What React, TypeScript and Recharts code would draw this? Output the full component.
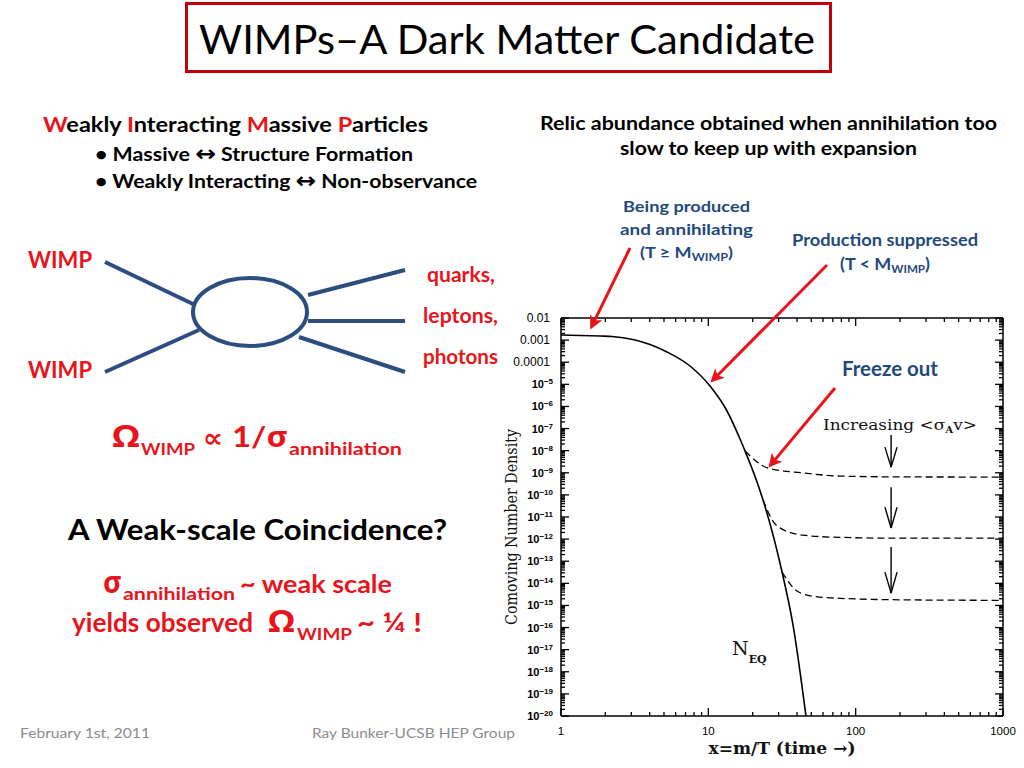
import React from 'react';
import { LineChart, Line, XAxis, YAxis, ReferenceLine, ReferenceDot } from 'recharts';

const solidX = [1, 1.84, 2.22, 3.08, 4.02, 5.24, 7.51, 10.27, 13.39, 16.41, 17.75, 21.41, 23.51, 31.65, 37.58, 46];
const solidY = [1.7e-3, 1.53e-3, 1.46e-3, 1.07e-3, 6.33e-4, 2.9e-4, 6.75e-5, 8.39e-6, 6.22e-7, 3.37e-8, 9.64e-9, 3.82e-10, 5.86e-11, 3.25e-14, 1.3e-16, 1.0e-20];

// dashed freeze-out curves (increasing <sigma v> going down)
const freeze1X = [17.75, 25.4, 44, 78.4, 200, 1000];
const freeze1Y = [9.64e-9, 1.64e-9, 9.8e-10, 7.1e-10, 6.5e-10, 6.4e-10];
const freeze2X = [23.51, 29.3, 44, 78.4, 200, 1000];
const freeze2Y = [5.86e-11, 3.9e-12, 1.5e-12, 1.2e-12, 1.1e-12, 1.1e-12];
const freeze3X = [31.65, 40, 51.4, 78.4, 200, 1000];
const freeze3Y = [3.25e-14, 4.5e-15, 2.6e-15, 2.1e-15, 1.8e-15, 1.7e-15];

// axes
const xMajorTicks = [1, 10, 100, 1000];
const xTickLabels = ['1', '10', '100', '1000'];
const minorSteps = [2, 3, 4, 5, 6, 7, 8, 9];
const yMajorTicks = [1e-2, 1e-3, 1e-4, 1e-5, 1e-6, 1e-7, 1e-8, 1e-9, 1e-10, 1e-11, 1e-12, 1e-13, 1e-14, 1e-15, 1e-16, 1e-17, 1e-18, 1e-19, 1e-20];
const yTickLabels = ['0.01', '0.001', '0.0001', '10^-5', '10^-6', '10^-7', '10^-8', '10^-9', '10^-10', '10^-11', '10^-12', '10^-13', '10^-14', '10^-15', '10^-16', '10^-17', '10^-18', '10^-19', '10^-20'];

// "Increasing <sigma v>" arrows, in data coordinates
const sigmaArrowX = 174;
const sigmaHeadLeftX = 158;
const sigmaHeadRightX = 191;
const sigmaArrowTop = [5.1e-8, 2.2e-10, 4.4e-13];
const sigmaArrowTip = [1.8e-9, 3.2e-12, 3.6e-15];
const sigmaArrowHead = [1.45e-8, 2.8e-11, 3.2e-14];

const toPoints = (xs: number[], ys: number[]) => xs.map((x, i) => ({ x, y: ys[i] }));
const solid = toPoints(solidX, solidY);
const freeze1 = toPoints(freeze1X, freeze1Y);
const freeze2 = toPoints(freeze2X, freeze2Y);
const freeze3 = toPoints(freeze3X, freeze3Y);

const xTicks = [...xMajorTicks, ...xMajorTicks.slice(0, 3).flatMap((b) => minorSteps.map((m) => m * b))];
const yTicks = [...yMajorTicks, ...yMajorTicks.slice(1).flatMap((b) => minorSteps.map((m) => m * b))];

const SANS = "Lato, 'Noto Sans', sans-serif";
const GREEK = "'Noto Sans', 'DejaVu Sans', sans-serif";
const SERIF = "'DejaVu Serif', 'Liberation Serif', serif";
const TICKFONT = "'Liberation Sans', Arial, sans-serif";
const RED = '#E8141B';
const NAVY = '#1F497D';
const LINE_BLUE = '#2C4D80';

const XTick = (props: any) => {
  const { x, y, payload, top } = props;
  const i = xMajorTicks.indexOf(payload.value);
  const len = i >= 0 ? 8 : 4;
  const d = top ? 1 : -1;
  return (
    <g>
      <line x1={x} x2={x} y1={y} y2={y + d * len} stroke="#000" strokeWidth={1.3} />
      {!top && i >= 0 && (
        <text x={x} y={y + 19} textAnchor="middle" fontSize={11.5} fontFamily={TICKFONT} fill="#000">
          {xTickLabels[i]}
        </text>
      )}
    </g>
  );
};

const YTick = (props: any) => {
  const { x, y, payload, right } = props;
  const i = yMajorTicks.indexOf(payload.value);
  const len = i >= 0 ? 8 : 4;
  const d = right ? -1 : 1;
  const lab = i >= 0 ? yTickLabels[i] : null;
  let text = null;
  if (!right && lab) {
    if (lab.includes('^')) {
      const exp = lab.split('^')[1].replace('-', '\u2212');
      text = (
        <text x={x - 8} y={y + 4} textAnchor="end" fontSize={11} fontWeight="bold" fontFamily={TICKFONT} fill="#000">
          10<tspan dy={-4} fontSize={8}>{exp}</tspan>
        </text>
      );
    } else {
      text = (
        <text x={x - 11} y={y + 4} textAnchor="end" fontSize={12} fontFamily={TICKFONT} fill="#000">
          {lab}
        </text>
      );
    }
  }
  return (
    <g>
      <line x1={x} x2={x + d * len} y1={y} y2={y} stroke="#000" strokeWidth={1.3} />
      {text}
    </g>
  );
};

const XTitle = (props: any) => {
  const vb = props.viewBox;
  return (
    <text x={vb.x + vb.width / 2} y={vb.y + 38} textAnchor="middle" fontFamily={SERIF} fontSize={16} fontWeight="bold" fill="#111" textLength={147} lengthAdjust="spacingAndGlyphs">
      x=m/T (time →)
    </text>
  );
};

const YTitle = (props: any) => {
  const vb = props.viewBox;
  const cx = vb.x + 10;
  const cy = vb.y + vb.height / 2 + 10;
  return (
    <text x={cx} y={cy} transform={`rotate(-90 ${cx} ${cy})`} textAnchor="middle" dominantBaseline="central" fontFamily={SERIF} fontSize={16.5} fill="#111" textLength={196} lengthAdjust="spacingAndGlyphs">
      Comoving Number Density
    </text>
  );
};

const IncreasingLabel = (props: any) => {
  const vb = props.viewBox;
  return (
    <text x={vb.x} y={vb.y} textAnchor="middle" fontFamily={SERIF} fontSize={15} fill="#111" textLength={154} lengthAdjust="spacingAndGlyphs">
      Increasing &lt;σ<tspan fontSize={9} fontWeight="bold" dy={3}>A</tspan><tspan dy={-3}>v&gt;</tspan>
    </text>
  );
};

const NeqLabel = (props: any) => {
  const vb = props.viewBox;
  return (
    <text x={vb.x} y={vb.y} fontFamily={SERIF} fill="#111">
      <tspan fontSize={19}>N</tspan>
      <tspan fontSize={11} fontWeight="bold" dy={8}>EQ</tspan>
    </text>
  );
};

const sigmaArrows = sigmaArrowTop.flatMap((top, i) => [
  <ReferenceLine key={`s${i}`} xAxisId="b" yAxisId="l" segment={[{ x: sigmaArrowX, y: top }, { x: sigmaArrowX, y: sigmaArrowTip[i] }]} stroke="#000" strokeWidth={1.4} />,
  <ReferenceLine key={`hl${i}`} xAxisId="b" yAxisId="l" segment={[{ x: sigmaHeadLeftX, y: sigmaArrowHead[i] }, { x: sigmaArrowX, y: sigmaArrowTip[i] }]} stroke="#000" strokeWidth={1.4} />,
  <ReferenceLine key={`hr${i}`} xAxisId="b" yAxisId="l" segment={[{ x: sigmaHeadRightX, y: sigmaArrowHead[i] }, { x: sigmaArrowX, y: sigmaArrowTip[i] }]} stroke="#000" strokeWidth={1.4} />,
]);

const RelicChart = () => (
  <LineChart width={534} height={468} margin={{ top: 17, right: 20, bottom: 12, left: 11 }}>
    <XAxis
      xAxisId="b" type="number" dataKey="x" scale="log" domain={[1, 1000]} ticks={xTicks} interval={0}
      allowDataOverflow tickSize={0} tickMargin={0} tickLine={false} height={40}
      axisLine={{ stroke: '#000', strokeWidth: 1.5 }} tick={(p: any) => <XTick {...p} />}
      label={{ content: (p: any) => <XTitle {...p} /> }}
    />
    <XAxis
      xAxisId="t" orientation="top" type="number" dataKey="x" scale="log" domain={[1, 1000]} ticks={xTicks} interval={0}
      allowDataOverflow tickSize={0} tickMargin={0} tickLine={false} height={1}
      axisLine={{ stroke: '#000', strokeWidth: 1.5 }} tick={(p: any) => <XTick {...p} top />}
    />
    <YAxis
      yAxisId="l" type="number" dataKey="y" scale="log" domain={[1e-20, 1e-2]} ticks={yTicks} interval={0}
      allowDataOverflow tickSize={0} tickMargin={0} tickLine={false} width={60}
      axisLine={{ stroke: '#000', strokeWidth: 1.5 }} tick={(p: any) => <YTick {...p} />}
      label={{ content: (p: any) => <YTitle {...p} /> }}
    />
    <YAxis
      yAxisId="r" orientation="right" type="number" dataKey="y" scale="log" domain={[1e-20, 1e-2]} ticks={yTicks} interval={0}
      allowDataOverflow tickSize={0} tickMargin={0} tickLine={false} width={1}
      axisLine={{ stroke: '#000', strokeWidth: 1.5 }} tick={(p: any) => <YTick {...p} right />}
    />
    <Line xAxisId="b" yAxisId="l" data={solid} dataKey="y" type="monotone" stroke="#000" strokeWidth={1.6} dot={false} activeDot={false} isAnimationActive={false} />
    <Line xAxisId="b" yAxisId="l" data={freeze1} dataKey="y" type="monotone" stroke="#000" strokeWidth={1.3} strokeDasharray="7 4" dot={false} activeDot={false} isAnimationActive={false} />
    <Line xAxisId="b" yAxisId="l" data={freeze2} dataKey="y" type="monotone" stroke="#000" strokeWidth={1.3} strokeDasharray="7 4" dot={false} activeDot={false} isAnimationActive={false} />
    <Line xAxisId="b" yAxisId="l" data={freeze3} dataKey="y" type="monotone" stroke="#000" strokeWidth={1.3} strokeDasharray="7 4" dot={false} activeDot={false} isAnimationActive={false} />
    {sigmaArrows}
    <ReferenceDot xAxisId="b" yAxisId="l" x={200} y={8.6e-8} r={0} fill="none" stroke="none" label={{ content: (p: any) => <IncreasingLabel {...p} /> }} />
    <ReferenceDot xAxisId="b" yAxisId="l" x={14.5} y={5.8e-18} r={0} fill="none" stroke="none" label={{ content: (p: any) => <NeqLabel {...p} /> }} />
  </LineChart>
);

const Slide = () => (
  <svg width={1024} height={768} style={{ position: 'absolute', left: 0, top: 0, pointerEvents: 'none' }}>
    <defs>
      <marker id="ah" viewBox="0 0 10 10" refX={6} refY={5} markerWidth={5} markerHeight={4.5} orient="auto" markerUnits="strokeWidth">
        <path d="M0,0 L10,5 L0,10 L2.5,5 z" fill={RED} />
      </marker>
    </defs>

    {/* title */}
    <rect x={186.5} y={3.5} width={644} height={68} fill="none" stroke="#C0000B" strokeWidth={3} />
    <text x={199} y={54} fontFamily={SANS} fontSize={40} fill="#000" textLength={616} lengthAdjust="spacingAndGlyphs">WIMPs–A Dark Matter Candidate</text>

    {/* left column */}
    <g fontFamily={SANS} fontWeight={700}>
      <text x={43} y={132} fontSize={21} fill="#000" textLength={385} lengthAdjust="spacingAndGlyphs">
        <tspan fill={RED}>W</tspan>eakly <tspan fill={RED}>I</tspan>nteracting <tspan fill={RED}>M</tspan>assive <tspan fill={RED}>P</tspan>articles
      </text>
      <text x={95} y={161} fontSize={19} fill="#000" textLength={318} lengthAdjust="spacingAndGlyphs">
        • Massive <tspan fontFamily="'DejaVu Sans', sans-serif" fontSize={22}>↔</tspan> Structure Formation
      </text>
      <text x={95} y={188} fontSize={19} fill="#000" textLength={382} lengthAdjust="spacingAndGlyphs">
        • Weakly Interacting <tspan fontFamily="'DejaVu Sans', sans-serif" fontSize={22}>↔</tspan> Non-observance
      </text>

      <text x={28} y={268} fontSize={22} fill={RED} textLength={64} lengthAdjust="spacingAndGlyphs">WIMP</text>
      <text x={28} y={378} fontSize={22} fill={RED} textLength={64} lengthAdjust="spacingAndGlyphs">WIMP</text>
      <text x={427} y={282} fontSize={20} fill={RED} textLength={68} lengthAdjust="spacingAndGlyphs">quarks,</text>
      <text x={423} y={323} fontSize={20} fill={RED} textLength={75} lengthAdjust="spacingAndGlyphs">leptons,</text>
      <text x={423} y={364} fontSize={20} fill={RED} textLength={75} lengthAdjust="spacingAndGlyphs">photons</text>

      <text x={112} y={447} fontFamily={GREEK} fontSize={30} fill={RED} textLength={28} lengthAdjust="spacingAndGlyphs">Ω</text>
      <text x={141} y={455} fontSize={17} fill={RED} textLength={54} lengthAdjust="spacingAndGlyphs">WIMP</text>
      <text x={203} y={447} fontFamily="'DejaVu Sans', sans-serif" fontSize={26} fill={RED} textLength={20} lengthAdjust="spacingAndGlyphs">∝</text>
      <text x={232} y={447} fontSize={28} fill={RED} textLength={56} lengthAdjust="spacingAndGlyphs">1/<tspan fontFamily={GREEK}>σ</tspan></text>
      <text x={289} y={455} fontSize={17} fill={RED} textLength={113} lengthAdjust="spacingAndGlyphs">annihilation</text>

      <text x={68} y={540} fontSize={28} fill="#000" textLength={379} lengthAdjust="spacingAndGlyphs">A Weak-scale Coincidence?</text>

      <text x={103} y={593} fontFamily={GREEK} fontSize={30} fill={RED} textLength={19} lengthAdjust="spacingAndGlyphs">σ</text>
      <text x={123} y={600} fontSize={17} fill={RED} textLength={112} lengthAdjust="spacingAndGlyphs">annihilation</text>
      <text x={240} y={593} fontSize={25} fill={RED} textLength={152} lengthAdjust="spacingAndGlyphs">~ weak scale</text>
      <text x={72} y={632} fontSize={26} fill={RED} textLength={181} lengthAdjust="spacingAndGlyphs">yields observed</text>
      <text x={268} y={632} fontFamily={GREEK} fontSize={30} fill={RED} textLength={27} lengthAdjust="spacingAndGlyphs">Ω</text>
      <text x={297} y={640} fontSize={17} fill={RED} textLength={55} lengthAdjust="spacingAndGlyphs">WIMP</text>
      <text x={357} y={632} fontSize={26} fill={RED} textLength={65} lengthAdjust="spacingAndGlyphs">~ ¼ !</text>
    </g>

    {/* annihilation diagram */}
    <g stroke={LINE_BLUE} strokeWidth={4} fill="none">
      <ellipse cx={250} cy={312} rx={57} ry={34} />
      <line x1={105} y1={262} x2={193} y2={304} />
      <line x1={105} y1={372} x2={199} y2={330} />
      <line x1={308} y1={295} x2={405} y2={270} />
      <line x1={308} y1={321} x2={405} y2={321} />
      <line x1={299} y1={337} x2={405} y2={372} />
    </g>

    {/* right column */}
    <g fontFamily={SANS} fontWeight={700}>
      <text x={540} y={130} fontSize={19} fill="#000" textLength={457} lengthAdjust="spacingAndGlyphs">Relic abundance obtained when annihilation too</text>
      <text x={620} y={155} fontSize={19} fill="#000" textLength={297} lengthAdjust="spacingAndGlyphs">slow to keep up with expansion</text>
      <text x={623} y={212} fontSize={16} fill={NAVY} textLength={127} lengthAdjust="spacingAndGlyphs">Being produced</text>
      <text x={620} y={235} fontSize={16} fill={NAVY} textLength={133} lengthAdjust="spacingAndGlyphs">and annihilating</text>
      <text x={640} y={258} fontSize={16} fill={NAVY} textLength={93} lengthAdjust="spacingAndGlyphs">(T ≥ M<tspan fontSize={11} dy={3}>WIMP</tspan><tspan dy={-3}>)</tspan></text>
      <text x={792} y={246} fontSize={17} fill={NAVY} textLength={186} lengthAdjust="spacingAndGlyphs">Production suppressed</text>
      <text x={840} y={270} fontSize={17} fill={NAVY} textLength={90} lengthAdjust="spacingAndGlyphs">(T &lt; M<tspan fontSize={11} dy={3}>WIMP</tspan><tspan dy={-3}>)</tspan></text>
      <text x={842} y={376} fontSize={20} fill={NAVY} textLength={96} lengthAdjust="spacingAndGlyphs">Freeze out</text>
    </g>

    {/* red pointers */}
    <g stroke={RED} strokeWidth={3} markerEnd="url(#ah)">
      <line x1={630} y1={248} x2={592.6} y2={324.6} />
      <line x1={827} y1={265} x2={714.2} y2={378.7} />
      <line x1={835} y1={388} x2={771.9} y2={463.4} />
    </g>

    {/* footer */}
    <g fontFamily={SANS} fontSize={14} fill="#8C8C8C">
      <text x={20} y={738} textLength={130} lengthAdjust="spacingAndGlyphs">February 1st, 2011</text>
      <text x={312} y={738} textLength={203} lengthAdjust="spacingAndGlyphs">Ray Bunker-UCSB HEP Group</text>
    </g>
  </svg>
);

export default function App() {
  return (
    <div style={{ position: 'absolute', left: 0, top: 0, width: 1024, height: 768, background: '#fff', overflow: 'hidden' }}>
      <div style={{ position: 'absolute', left: 490, top: 300, width: 534, height: 468 }}>
        <RelicChart />
      </div>
      <Slide />
    </div>
  );
}
